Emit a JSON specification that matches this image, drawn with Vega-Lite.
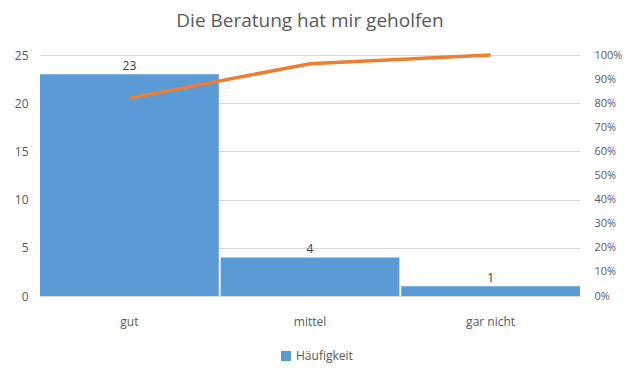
{
  "$schema": "https://vega.github.io/schema/vega-lite/v6.json",
  "width": 540,
  "height": 241,
  "autosize": {"type": "none"},
  "padding": {"left": 40, "top": 55, "right": 53, "bottom": 76},
  "background": "white",
  "title": {"text": "Die Beratung hat mir geholfen", "fontSize": 19, "font": "Open Sans", "fontWeight": "normal", "color": "#595959", "offset": 17},
  "config": {
    "view": {"stroke": null},
    "font": "Open Sans",
    "axis": {"labelColor": "#595959", "labelFontSize": 11, "titleColor": "#595959", "domain": false, "ticks": false}
  },
  "data": {"values": [
    {"Kategorie": "gut", "Häufigkeit": 23, "Kumuliert": 0.821},
    {"Kategorie": "mittel", "Häufigkeit": 4, "Kumuliert": 0.964},
    {"Kategorie": "gar nicht", "Häufigkeit": 1, "Kumuliert": 1.0}
  ]},
  "encoding": {
    "x": {"field": "Kategorie", "type": "nominal", "sort": null,
      "scale": {"paddingInner": 0.01, "paddingOuter": 0},
      "axis": {"title": null, "labelAngle": 0, "labelPadding": 20, "labelFontSize": 12, "domain": true, "domainColor": "#D9D9D9"}}
  },
  "layer": [
    {
      "layer": [
        {
          "mark": {"type": "bar", "color": "#5B9BD5"},
          "encoding": {
            "y": {"field": "Häufigkeit", "type": "quantitative", "scale": {"domain": [0, 25], "nice": false},
              "axis": {"title": null, "values": [0, 5, 10, 15, 20, 25], "grid": true, "gridColor": "#D9D9D9", "labelPadding": 12, "labelFontSize": 12}},
            "color": {"datum": "Häufigkeit", "type": "nominal", "scale": {"range": ["#5B9BD5"]},
              "legend": {"title": null, "orient": "none", "legendX": 240, "legendY": 295, "symbolType": "square", "symbolSize": 100, "labelFontSize": 12, "labelColor": "#595959", "symbolStrokeWidth": 0}}
          }
        },
        {
          "mark": {"type": "text", "dy": -8, "fontSize": 12, "color": "#404040"},
          "encoding": {
            "y": {"field": "Häufigkeit", "type": "quantitative", "scale": {"domain": [0, 25], "nice": false}},
            "text": {"field": "Häufigkeit", "type": "quantitative"}
          }
        }
      ]
    },
    {
      "mark": {"type": "line", "color": "#ED7D31", "strokeWidth": 3.5},
      "encoding": {
        "y": {"field": "Kumuliert", "type": "quantitative", "scale": {"domain": [0, 1], "nice": false},
          "axis": {"title": null, "orient": "right", "format": ".0%", "values": [0, 0.1, 0.2, 0.3, 0.4, 0.5, 0.6, 0.7, 0.8, 0.9, 1], "grid": false, "labelPadding": 14, "labelFontSize": 11}}
      }
    }
  ],
  "resolve": {"scale": {"y": "independent"}}
}
